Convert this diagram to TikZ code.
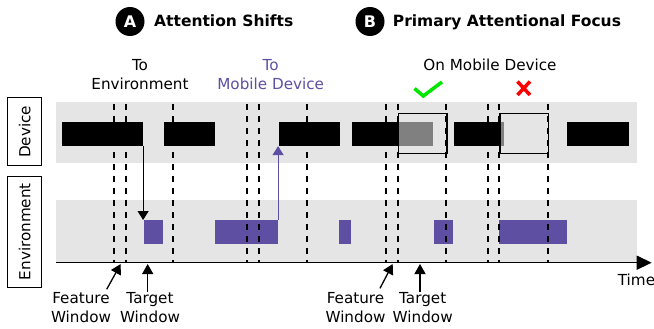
\documentclass[tikz,border=0pt]{standalone}
\usepackage{fontspec}
\setmainfont{DejaVu Sans}
\usetikzlibrary{arrows.meta}
\definecolor{bandgray}{RGB}{229,229,229}
\definecolor{halfgray}{RGB}{128,128,128}
\definecolor{purp}{RGB}{94,79,162}
\definecolor{okgreen}{RGB}{0,230,0}
\tikzset{
  lanebox/.style={draw, line width=1pt, rotate=90, inner sep=0pt, minimum height=33.7pt},
  dbar/.style={fill=black, anchor=north west, inner sep=0pt, minimum height=24pt},
  ebar/.style={fill=purp, anchor=north west, inner sep=0pt, minimum height=23.3pt},
  window/.style={line width=1.8pt, dash pattern=on 6pt off 6pt},
  focusbox/.style={draw, line width=1.5pt, anchor=north west, inner sep=0pt, minimum height=40pt},
  badge/.style={circle, fill=black, text=white, inner sep=0pt, minimum size=29pt, font=\fontsize{16}{18}\selectfont\bfseries},
  title/.style={anchor=base west, inner sep=0pt, font=\fontsize{15.5}{18}\selectfont\bfseries},
  label/.style={anchor=base, align=center, inner sep=0pt}
}
\begin{document}
\begin{tikzpicture}[x=1pt, y=-1pt, font=\fontsize{15.2}{18.5}\selectfont]
  \useasboundingbox (0,0) rectangle (654,329);
  % bands
  \fill[bandgray] (56,102) rectangle (637,163);
  \fill[bandgray] (56,200) rectangle (637,262.7);
  \node[lanebox, minimum width=67.7pt] (dev) at (24.8,131.8) {Device};
  \node[lanebox, minimum width=111.3pt] (env) at (24.8,231.7) {Environment};
  % device
  \node[dbar, minimum width=81pt] (d1) at (61.7,121.7) {};
  \node[dbar, minimum width=51pt] (d2) at (163.3,121.7) {};
  \node[dbar, minimum width=61.7pt] (d3) at (278.3,121.7) {};
  \node[dbar, minimum width=46pt] (d4) at (351.7,121.7) {};
  \node[dbar, fill=halfgray, minimum width=35pt] (g4) at (397.7,121.7) {};
  \node[dbar, minimum width=45.7pt] (d5) at (453.3,121.7) {};
  \node[dbar, fill=halfgray, minimum width=5pt] (g5) at (499,121.7) {};
  \node[dbar, minimum width=62.3pt] (d6) at (566.7,121.7) {};
  % environment
  \node[ebar, minimum width=19.4pt] (e1) at (143.3,220) {};
  \node[ebar, minimum width=63.4pt] (e2) at (214.3,220) {};
  \node[ebar, minimum width=12pt] (e3) at (339,220) {};
  \node[ebar, minimum width=19.4pt] (e4) at (433.3,220) {};
  \node[ebar, minimum width=67.7pt] (e5) at (499,220) {};
  % windows
  \draw[window] (114,104) -- (114,262);
  \draw[window] (125.7,104) -- (125.7,262);
  \draw[window] (173,104) -- (173,262);
  \draw[window] (247.3,104) -- (247.3,262);
  \draw[window] (259,104) -- (259,262);
  \draw[window] (306.7,104) -- (306.7,262);
  \draw[window] (386,104) -- (386,262);
  \draw[window] (397.7,104) -- (397.7,262);
  \draw[window] (446,104) -- (446,262);
  \draw[window] (487.7,104) -- (487.7,262);
  \draw[window] (499,104) -- (499,262);
  \draw[window] (547.7,104) -- (547.7,262);
  \node[focusbox, minimum width=48.3pt] (f1) at (397.7,112.7) {};
  \node[focusbox, minimum width=48.7pt] (f2) at (499,112.7) {};
  % shifts
  \draw[line width=1.2pt, -{Triangle[length=9pt,width=11pt]}] (d1.south east) -- (d1.south east |- e1.north);
  \draw[purp, line width=1.2pt, -{Triangle[length=9pt,width=11pt]}] (e2.north east) -- (e2.north east |- d3.south);
  % axis
  \coordinate (t0) at (56,262.7);
  \coordinate (t1) at (651.7,262.7);
  \draw[line width=1.5pt, -{Triangle[length=15pt,width=14pt]}] (t0) -- (t1);
  \node[anchor=base west, inner sep=0pt] (time) at (617.7,285) {Time};
  % titles
  \node[badge] (ba) at (130,21.5) {A};
  \node[title] (ta) at (154,27) {Attention Shifts};
  \node[badge] (bb) at (370,21.5) {B};
  \node[title] (tb) at (392.7,27) {Primary Attentional Focus};
  % labels
  \node[label] (toenv) at (140,89) {To\\Environment};
  \node[label, text=purp] (todev) at (270.7,89) {To\\Mobile Device};
  \node[label] (onmob) at (490,71) {On Mobile Device};
  \draw[okgreen, line width=3.5pt] (414.5,88.5) -- (423.3,96) -- (442,82);
  \draw[red, line width=3.5pt] (517.5,81.5) -- (530,95) (530,81.5) -- (517.5,95);
  % bottom
  \coordinate (c1) at (120.7,264);
  \coordinate (c2) at (147.7,264);
  \coordinate (c3) at (392.7,264);
  \coordinate (c4) at (420,264);
  \node[label] (fw1) at (81,322) {Feature\\Window};
  \node[label] (tw1) at (150,322) {Target\\Window};
  \node[label] (fw2) at (355.5,322) {Feature\\Window};
  \node[label] (tw2) at (422.7,322) {Target\\Window};
  \draw[line width=1.3pt, -{Triangle[length=10pt,width=11pt]}] (106.7,289.3) -- (c1);
  \draw[line width=1.3pt, -{Triangle[length=10pt,width=11pt]}] (c2 |- tw1.north) -- (c2);
  \draw[line width=1.3pt, -{Triangle[length=10pt,width=11pt]}] (380,288.3) -- (c3);
  \draw[line width=1.3pt, -{Triangle[length=10pt,width=11pt]}] (c4 |- tw2.north) -- (c4);
\end{tikzpicture}
\end{document}
